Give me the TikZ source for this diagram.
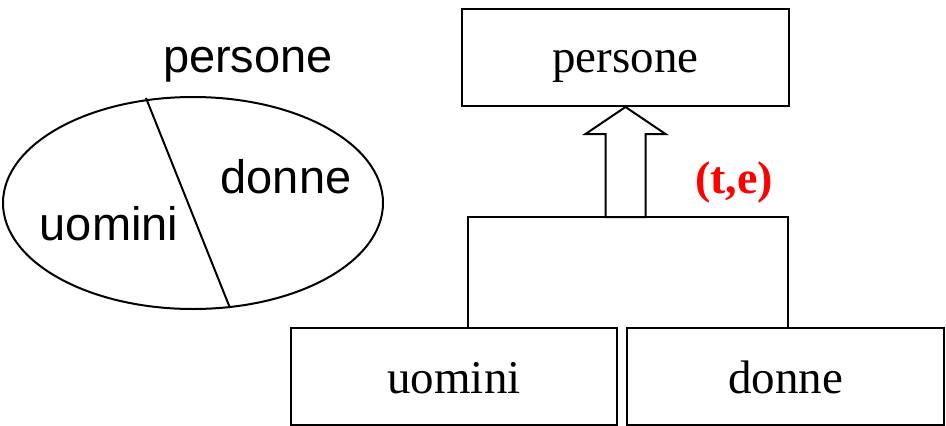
\documentclass[tikz,border=0pt]{standalone}
\usepackage{fontspec}
\setmainfont{Liberation Serif}
\newfontfamily\arialf{Liberation Sans}
\usetikzlibrary{shapes.geometric}
\definecolor{tered}{RGB}{255,0,0}
\begin{document}
\begin{tikzpicture}[x=1pt,y=-1pt,
  boxn/.style={draw, line width=2pt, rectangle, inner sep=0pt, minimum height=97pt, text depth=10pt, font=\fontsize{47}{56}\selectfont},
  sanslbl/.style={inner sep=0pt, anchor=base, font=\arialf\fontsize{47}{56}\selectfont},
  conn/.style={draw, line width=1.8pt},
  blockarrow/.style={draw, line width=2pt, fill=white, line join=miter}]
\useasboundingbox (0,0) rectangle (946,426);
% Venn-like ellipse
\node[ellipse, draw, line width=2pt, minimum width=380pt, minimum height=212pt, inner sep=0pt] (E) at (193,203) {};
\coordinate (ltop) at (146,98);
\coordinate (lbot) at (230,308);
\draw[line width=2pt] (ltop) -- (lbot);
\node[sanslbl] (Ep) at (248,72) {persone};
\node[sanslbl] (Ed) at (286,193) {donne};
\node[sanslbl] (Eu) at (109,240) {uomini};
% hierarchy
\node[boxn, minimum width=327pt, text height=39pt] (P) at (625.5,57.5) {persone};
\node[boxn, minimum width=326pt, text height=43pt] (U) at (454,376.5) {uomini};
\node[boxn, minimum width=317pt, text height=43pt] (D) at (785.5,376.5) {donne};
\coordinate (c1) at (468,217);
\coordinate (c2) at (788,217);
\draw[conn] (c1 |- U.north) -- (c1) -- (c2) -- (c2 |- D.north);
\draw[blockarrow] ([xshift=-20pt]P.south |- c1) -- ([xshift=-20pt,yshift=-27pt]P.south)
  -- ([xshift=-40pt,yshift=-27pt]P.south) -- (P.south) -- ([xshift=40pt,yshift=-27pt]P.south)
  -- ([xshift=20pt,yshift=-27pt]P.south) -- ([xshift=20pt]P.south |- c1) -- cycle;
\node[inner sep=0pt, anchor=base, text=tered, font=\bfseries\fontsize{46}{55}\selectfont] (te) at (734,193) {(t,e)};
\end{tikzpicture}
\end{document}
